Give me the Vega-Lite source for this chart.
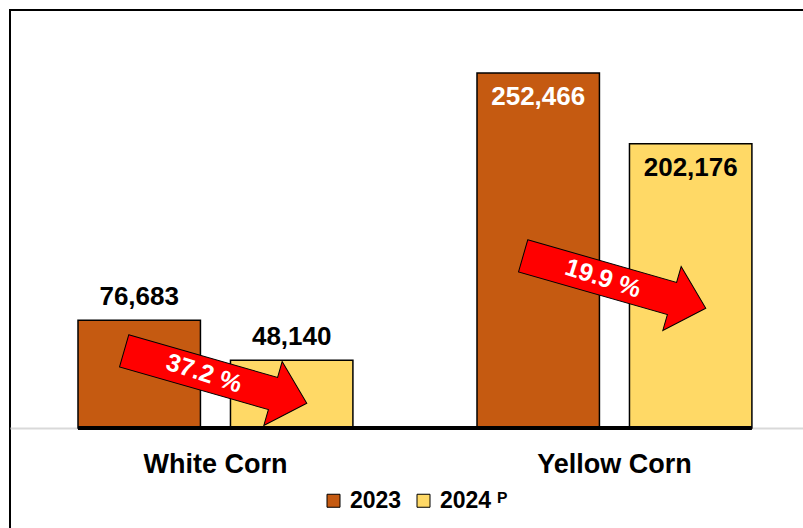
{
  "$schema": "https://vega.github.io/schema/vega-lite/v6.json",
  "width": 798,
  "height": 523,
  "autosize": {"type": "none"},
  "padding": {"left": 10, "top": 10, "right": -5, "bottom": -5},
  "background": "white",
  "config": {
    "view": {"stroke": "black", "strokeWidth": 2},
    "font": "Liberation Sans"
  },
  "datasets": {
    "main": [
      {"group": "White Corn", "year": "2023", "value": 76683},
      {"group": "White Corn", "year": "2024", "value": 48140},
      {"group": "Yellow Corn", "year": "2023", "value": 252466},
      {"group": "Yellow Corn", "year": "2024", "value": 202176}
    ],
    "arrows": [
      {"group": "White Corn", "y": 36270, "label": "37.2 %"},
      {"group": "Yellow Corn", "y": 103830, "label": "19.9 %"}
    ],
    "base": [
      {"from": "White Corn", "to": "Yellow Corn"}
    ]
  },
  "layer": [
    {
      "data": {"name": "main"},
      "mark": {"type": "bar", "stroke": "black", "strokeWidth": 1.5},
      "encoding": {
        "x": {
          "field": "group", "type": "nominal", "sort": ["White Corn", "Yellow Corn"],
          "scale": {"paddingInner": 0.311, "paddingOuter": 0.1555, "align": 0.548},
          "axis": {
            "title": null, "labelAngle": 0, "labelFontSize": 27, "labelFontWeight": "bold",
            "labelColor": "black", "labelFont": "Liberation Sans",
            "ticks": false, "tickSize": 0, "labelPadding": 23, "offset": -105,
            "domainColor": "#d9d9d9", "domainWidth": 2, "grid": false
          }
        },
        "xOffset": {
          "field": "year", "type": "nominal",
          "scale": {"paddingInner": 0.197, "paddingOuter": 0}
        },
        "y": {
          "field": "value", "type": "quantitative",
          "scale": {"domain": [-74670, 297270], "nice": false, "zero": false},
          "axis": null
        },
        "color": {
          "field": "year", "type": "nominal",
          "scale": {"domain": ["2023", "2024"], "range": ["#C55A11", "#FFD966"]},
          "legend": {
            "title": null, "orient": "none", "legendX": 312, "legendY": 479,
            "direction": "horizontal", "symbolType": "square", "symbolSize": 169,
            "symbolStrokeColor": "black", "symbolStrokeWidth": 1,
            "labelFont": "Liberation Sans", "labelFontSize": 23, "labelFontWeight": "bold",
            "labelColor": "black", "columnPadding": 10, "labelOffset": 5, "padding": 0,
            "labelExpr": "datum.label == '2024' ? '2024 ᴾ' : datum.label"
          }
        }
      }
    },
    {
      "data": {"name": "base"},
      "mark": {"type": "rule", "color": "black", "strokeWidth": 4},
      "encoding": {
        "x": {"field": "from", "type": "nominal", "bandPosition": 0},
        "x2": {"field": "to", "bandPosition": 1},
        "y": {"datum": 0, "type": "quantitative"}
      }
    },
    {
      "data": {"name": "main"},
      "transform": [{"filter": "datum.group == 'White Corn'"}],
      "mark": {"type": "text", "fontSize": 26, "fontWeight": "bold", "dy": -23, "baseline": "middle", "color": "black"},
      "encoding": {
        "x": {"field": "group", "type": "nominal"},
        "xOffset": {"field": "year", "type": "nominal"},
        "y": {"field": "value", "type": "quantitative"},
        "text": {"field": "value", "type": "quantitative", "format": ",.0f"}
      }
    },
    {
      "data": {"name": "main"},
      "transform": [{"filter": "datum.group == 'Yellow Corn'"}],
      "mark": {"type": "text", "fontSize": 26, "fontWeight": "bold", "dy": 24, "baseline": "middle"},
      "encoding": {
        "x": {"field": "group", "type": "nominal"},
        "xOffset": {"field": "year", "type": "nominal"},
        "y": {"field": "value", "type": "quantitative"},
        "text": {"field": "value", "type": "quantitative", "format": ",.0f"},
        "color": {"condition": {"test": "datum.year == '2023'", "value": "white"}, "value": "black"}
      }
    },
    {
      "data": {"name": "arrows"},
      "mark": {
        "type": "point", "filled": true, "fill": "#FF0000", "stroke": "black", "strokeWidth": 1,
        "opacity": 1, "size": 36100, "angle": 16,
        "shape": "M -1 -0.176 L 0.63 -0.176 L 0.63 -0.35 L 1 0 L 0.63 0.35 L 0.63 0.176 L -1 0.176 Z"
      },
      "encoding": {
        "x": {"field": "group", "type": "nominal"},
        "y": {"field": "y", "type": "quantitative"}
      }
    },
    {
      "data": {"name": "arrows"},
      "mark": {"type": "text", "fontSize": 25, "fontWeight": "bold", "color": "white", "angle": 18, "dx": -12, "baseline": "middle", "align": "center"},
      "encoding": {
        "x": {"field": "group", "type": "nominal"},
        "y": {"field": "y", "type": "quantitative"},
        "text": {"field": "label", "type": "nominal"}
      }
    }
  ]
}
